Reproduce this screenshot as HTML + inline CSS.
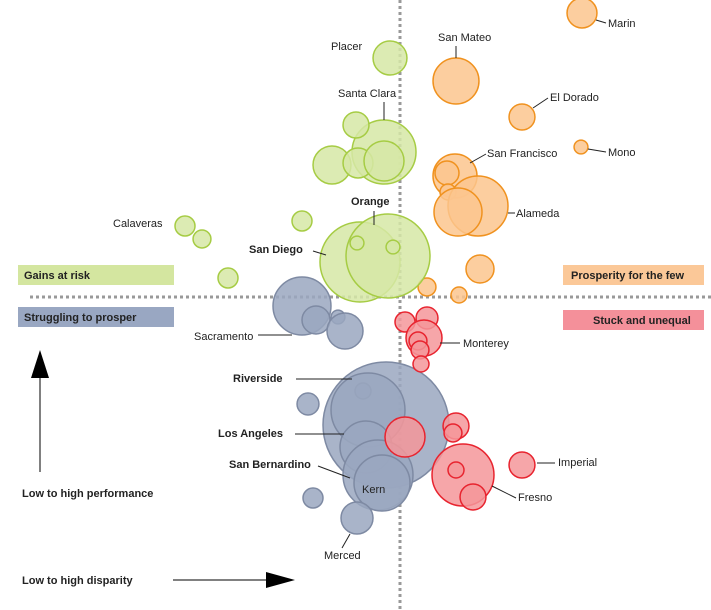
<!DOCTYPE html>
<html><head><meta charset="utf-8">
<style>
html,body{margin:0;padding:0;background:#fff;}
svg{display:block;font-family:"Liberation Sans",sans-serif;}
.lbl{font-size:11px;fill:#222;}
.b{font-weight:bold;}
</style></head>
<body>
<svg id="chart" width="711" height="610" viewBox="0 0 711 610">
  <g id="quad">
    <line x1="400" y1="0" x2="400" y2="610" stroke="#999" stroke-width="3" stroke-dasharray="3,3"/>
    <line x1="30" y1="297" x2="711" y2="297" stroke="#999" stroke-width="3" stroke-dasharray="3,3"/>
  </g>
  <g id="bubbles"></g>
  <g id="labels"></g>
  <g>
    <rect x="18" y="265" width="156" height="20" fill="#d4e6a0"/>
    <text x="24" y="279" class="lbl b">Gains at risk</text>
    <rect x="563" y="265" width="141" height="20" fill="#fbc898"/>
    <text x="571" y="279" class="lbl b">Prosperity for the few</text>
    <rect x="18" y="307" width="156" height="20" fill="#99a7c2"/>
    <text x="24" y="321" class="lbl b">Struggling to prosper</text>
    <rect x="563" y="310" width="141" height="20" fill="#f4909a"/>
    <text x="593" y="324" class="lbl b">Stuck and unequal</text>
  </g>
  <g>
    <line x1="40" y1="472" x2="40" y2="370" stroke="#000" stroke-width="1"/>
    <polygon points="31,378 40,350 49,378" fill="#000"/>
    <text x="22" y="497" class="lbl b">Low to high performance</text>
    <line x1="173" y1="580" x2="270" y2="580" stroke="#000" stroke-width="1"/>
    <polygon points="266,572 295,580 266,588" fill="#000"/>
    <text x="22" y="584" class="lbl b">Low to high disparity</text>
  </g>
</svg>
<script>
// disparity (x), performance (y), size (population index), group
const disparity = [45.5,14,30.5,45.25,13.75,11.75,12,19.5,14.5,20,6.75,14.75,
  -2.5,-4,-11,-17,-10.5,-4,-53.75,-49.5,-24.5,-43,-10,-3,-1.75,-10.75,
  -24.5,-21,-15.5,-13.75,-3.5,-9.25,-8,-23,-8.5,-5.5,-4.5,-21.75,-10.75,
  1.25,6.75,6,4.5,5,5.25,1.25,14,13.25,15.75,14,18.25,30.5];
const performance = [71,54,45,37.5,30.25,31,26.25,22.75,21.25,7,2.5,0.5,
  59.75,36.25,43,33,33.5,34,17.75,14.5,19,4.75,8.75,10.25,12.5,13.5,
  -2.25,-5.75,-5,-8.5,-32,-23.5,-28.25,-26.75,-37.5,-44.5,-46.5,-50.25,-55.25,
  -6.25,-5.25,-10.25,-11,-13.25,-16.75,-35,-32.25,-34,-44.5,-43.25,-50,-42];
const sizes = [56,132,42,12,121,36,16,225,144,49,20,16,
  72,256,42,90,56,100,25,20,25,25,400,441,12,12,
  210,49,12,81,992,16,342,30,169,306,196,25,64,
  25,30,81,20,20,16,100,42,20,240,16,42,42];
const groups = ['o','o','o','o','o','o','o','o','o','o','o','o',
  'g','g','g','g','g','g','g','g','g','g','g','g','g','g',
  'b','b','b','b','b','b','b','b','b','b','b','b','b',
  'r','r','r','r','r','r','r','r','r','r','r','r','r'];
const labelNames = ['Marin','San Mateo','El Dorado','Mono','San Francisco','Alameda','Placer','Santa Clara','Calaveras','Orange','San Diego','Sacramento','Riverside','Los Angeles','San Bernardino','Kern','Merced','Monterey','Imperial','Fresno'];

const xScale = v => 400 + v*4;
const yScale = v => 297 - v*4;
const rScale = v => Math.sqrt(v)*2;
const fills = {o:'#fbc58e',g:'#d6e8a6',b:'#9aa7c0',r:'#f4969a'};
const strokes = {o:'#f0921f',g:'#a6cc44',b:'#7e8aa3',r:'#e8242f'};
const NS='http://www.w3.org/2000/svg';
const bg=document.getElementById('bubbles');
const order=[...sizes.keys()];
order.forEach(i=>{
  const c=document.createElementNS(NS,'circle');
  c.setAttribute('cx',xScale(disparity[i]));
  c.setAttribute('cy',yScale(performance[i]));
  c.setAttribute('r',rScale(sizes[i]));
  c.setAttribute('fill',fills[groups[i]]);
  c.setAttribute('fill-opacity','0.85');
  c.setAttribute('stroke',strokes[groups[i]]);
  c.setAttribute('stroke-width','1.5');
  
  
  bg.appendChild(c);
});
// labels: [text, x, y, bold, anchor, leader line]
const labelPos = [
 ['Marin',608,27,0,'start',[596,20,606,23]],
 ['San Mateo',438,41,0,'start',[456,46,456,58]],
 ['El Dorado',550,101,0,'start',[533,108,548,98]],
 ['Mono',608,156,0,'start',[588,149,606,152]],
 ['San Francisco',487,157,0,'start',[470,163,486,154]],
 ['Alameda',516,217,0,'start',[508,213,515,213]],
 ['Placer',331,50,0,'start',null],
 ['Santa Clara',338,97,0,'start',[384,102,384,120]],
 ['Calaveras',113,227,0,'start',null],
 ['Orange',351,205,1,'start',[374,211,374,225]],
 ['San Diego',249,253,1,'start',[313,251,326,255]],
 ['Sacramento',194,340,0,'start',[258,335,292,335]],
 ['Riverside',233,382,1,'start',[296,379,352,379]],
 ['Los Angeles',218,437,1,'start',[295,434,344,434]],
 ['San Bernardino',229,468,1,'start',[318,466,350,478]],
 ['Kern',362,493,0,'start',null],
 ['Merced',324,559,0,'start',[342,548,350,534]],
 ['Monterey',463,347,0,'start',[440,343,460,343]],
 ['Imperial',558,466,0,'start',[537,463,555,463]],
 ['Fresno',518,501,0,'start',[492,486,516,498]]
];
const lg=document.getElementById('labels');
labelPos.forEach(l=>{
  if(l[5]){
    const ln=document.createElementNS(NS,'line');
    ln.setAttribute('x1',l[5][0]);ln.setAttribute('y1',l[5][1]);
    ln.setAttribute('x2',l[5][2]);ln.setAttribute('y2',l[5][3]);
    ln.setAttribute('stroke','#222');ln.setAttribute('stroke-width','1');
    
    
    lg.appendChild(ln);
  }
  const t=document.createElementNS(NS,'text');
  t.setAttribute('x',l[1]);t.setAttribute('y',l[2]);
  t.setAttribute('class','lbl'+(l[3]?' b':''));
  t.setAttribute('text-anchor',l[4]);
  t.textContent=l[0];
  
  
  lg.appendChild(t);
});
</script>
</body></html>
